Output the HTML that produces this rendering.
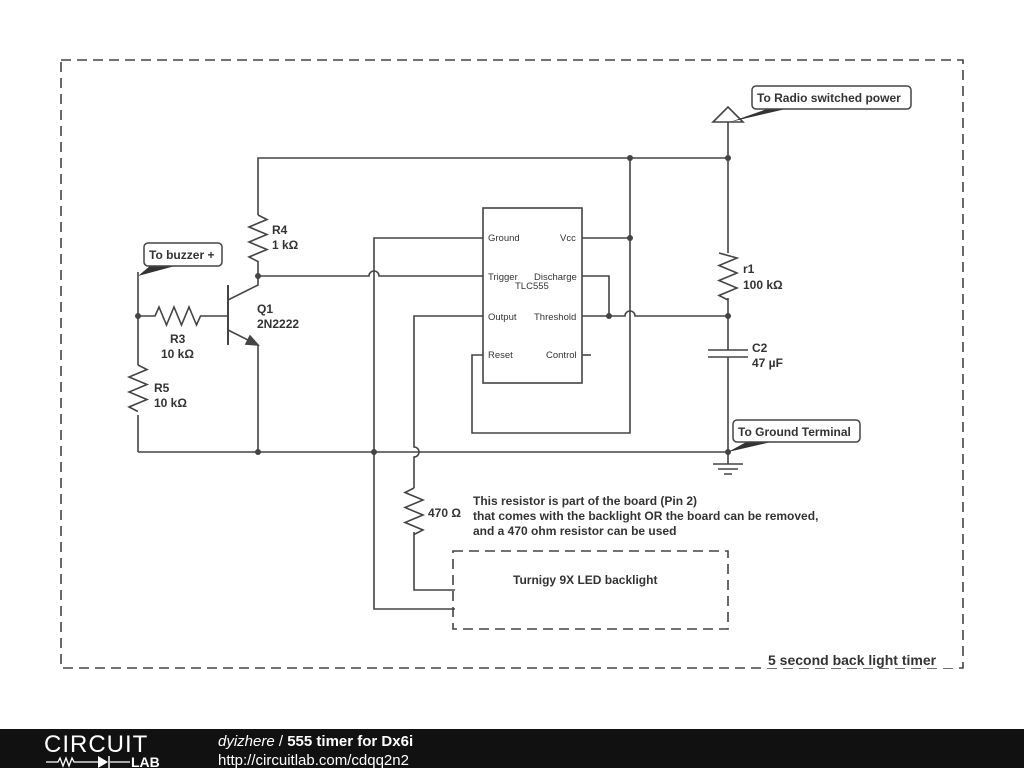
<!DOCTYPE html>
<html><head><meta charset="utf-8"><style>
html,body{margin:0;padding:0;background:#fff;width:1024px;height:768px;overflow:hidden}
svg{display:block}
text{font-family:"Liberation Sans",sans-serif;fill:#333}
</style></head><body>
<svg width="1024" height="768" viewBox="0 0 1024 768" xmlns="http://www.w3.org/2000/svg">
<rect x="0" y="0" width="1024" height="768" fill="#fff"/>
<rect x="61" y="60" width="902" height="608" fill="none" stroke="#444" stroke-width="1.6" stroke-dasharray="10,6"/>
<g stroke="#444" stroke-width="1.6" fill="none">
<path d="M258,215 V158 H728"/>
<path d="M728,122 V253 M728,298 V350 M728,357 V464"/>
<polygon points="713,122 743,122 728,107" fill="#fff"/>
<path d="M719,253 l18,5 -18,7.5 18,7.5 -18,7.5 18,7.5 -18,7.5 9,4.5"/>
<path d="M708,350 H748 M708,357 H748"/>
<path d="M713,464 H743 M718,469 H738 M724,474 H732"/>
<path d="M630,158 V433 H472 V355 H483"/>
<path d="M582,238 H630"/>
<path d="M582,316 H625 A5,5 0 0 1 635,316 H728"/>
<path d="M582,276 H609 V316"/>
<path d="M582,355 H591"/>
<rect x="483" y="208" width="99" height="175"/>
<path d="M483,238 H374 V609 H455"/>
<path d="M258,276 H369 A5,5 0 0 1 379,276 H483"/>
<path d="M483,316 H414 V447 A5,5 0 0 1 414,457 V488 M414,532 V590 H455"/>
<path d="M414,488 l-9,4.5 18,7.5 -18,7.5 18,7.5 -18,7.5 18,7.5 -9,4.5"/>
<path d="M138,452 H728"/>
<path d="M138,272 V365 M138,415 V452"/>
<path d="M138,365 l9,4.5 -18,7.5 18,7.5 -18,7.5 18,7.5 -18,7.5 9,4.5"/>
<path d="M138,316 H155 l4,-9 7.5,18 7.5,-18 7.5,18 7.5,-18 7.5,18 4,-9 H228"/>
<path d="M228,285 V345" stroke-width="2"/>
<path d="M228,300 L258,285 V276"/>
<path d="M228,330 L258,345 V452"/>
<polygon points="258,345 246,344 250,336" fill="#444"/>
<path d="M258,215 l9,4.5 -18,7.5 18,7.5 -18,7.5 18,7.5 -18,7.5 9,4.5 V276"/>
<rect x="453" y="551" width="275" height="78" stroke-dasharray="10,6"/>
</g>
<g fill="#444">
<circle cx="630" cy="158" r="3"/><circle cx="728" cy="158" r="3"/>
<circle cx="630" cy="238" r="3"/><circle cx="609" cy="316" r="3"/>
<circle cx="728" cy="316" r="3"/><circle cx="258" cy="276" r="3"/>
<circle cx="138" cy="316" r="3"/><circle cx="258" cy="452" r="3"/>
<circle cx="374" cy="452" r="3"/><circle cx="728" cy="452" r="3"/>
</g>
<polygon points="730,122 770,108 790,108" fill="#333"/>
<rect x="752" y="86" width="159" height="23" rx="4" fill="#fff" stroke="#444" stroke-width="1.5"/>
<text x="757" y="102" font-size="12" font-weight="bold">To Radio switched power</text>
<polygon points="728,452 750,440 780,440" fill="#333"/>
<rect x="733" y="420" width="127" height="22" rx="4" fill="#fff" stroke="#444" stroke-width="1.5"/>
<text x="738" y="436" font-size="12" font-weight="bold">To Ground Terminal</text>
<polygon points="138,276 150,266 175,266" fill="#333"/>
<rect x="144" y="243" width="78" height="23" rx="4" fill="#fff" stroke="#444" stroke-width="1.5"/>
<text x="149" y="259" font-size="12" font-weight="bold">To buzzer +</text>
<g font-size="12" font-weight="bold">
<text x="272" y="234">R4</text><text x="272" y="249">1 kΩ</text>
<text x="257" y="313">Q1</text><text x="257" y="328">2N2222</text>
<text x="170" y="343">R3</text><text x="161" y="358">10 kΩ</text>
<text x="154" y="392">R5</text><text x="154" y="407">10 kΩ</text>
<text x="743" y="273">r1</text><text x="743" y="289">100 kΩ</text>
<text x="752" y="352">C2</text><text x="752" y="367">47 µF</text>
<text x="428" y="517">470 Ω</text>
<text x="473" y="505">This resistor is part of the board (Pin 2)</text>
<text x="473" y="520">that comes with the backlight OR the board can be removed,</text>
<text x="473" y="535">and a 470 ohm resistor can be used</text>
<text x="513" y="584">Turnigy 9X LED backlight</text>
</g>
<g font-size="9.5" fill="#444">
<text x="488" y="241">Ground</text><text x="560" y="241">Vcc</text>
<text x="488" y="280">Trigger</text><text x="534" y="280">Discharge</text>
<text x="515" y="289">TLC555</text>
<text x="488" y="320">Output</text><text x="534" y="320">Threshold</text>
<text x="488" y="358">Reset</text><text x="546" y="358">Control</text>
</g>
<rect x="766" y="650" width="190" height="18" fill="#fff"/>
<text x="768" y="665" font-size="14" font-weight="bold">5 second back light timer</text>
<rect x="0" y="729" width="1024" height="39" fill="#111"/>
<text x="44" y="752" font-size="24" style="fill:#fff" letter-spacing="1">CIRCUIT</text>
<path d="M46,762 H58 l2,-4 3,8 3,-8 3,8 3,-8 2,4 H98 M110,762 H130" stroke="#fff" stroke-width="1.3" fill="none"/>
<polygon points="98,756 98,768 108,762" fill="#fff"/>
<path d="M109,756 V768" stroke="#fff" stroke-width="1.5"/>
<text x="131" y="767" font-size="14" font-weight="bold" style="fill:#fff">LAB</text>
<text x="218" y="746" font-size="15" style="fill:#fff"><tspan font-style="italic">dyizhere</tspan> / <tspan font-weight="bold">555 timer for Dx6i</tspan></text>
<text x="218" y="765" font-size="15" style="fill:#fff">http://circuitlab.com/cdqq2n2</text>
</svg>
</body></html>
